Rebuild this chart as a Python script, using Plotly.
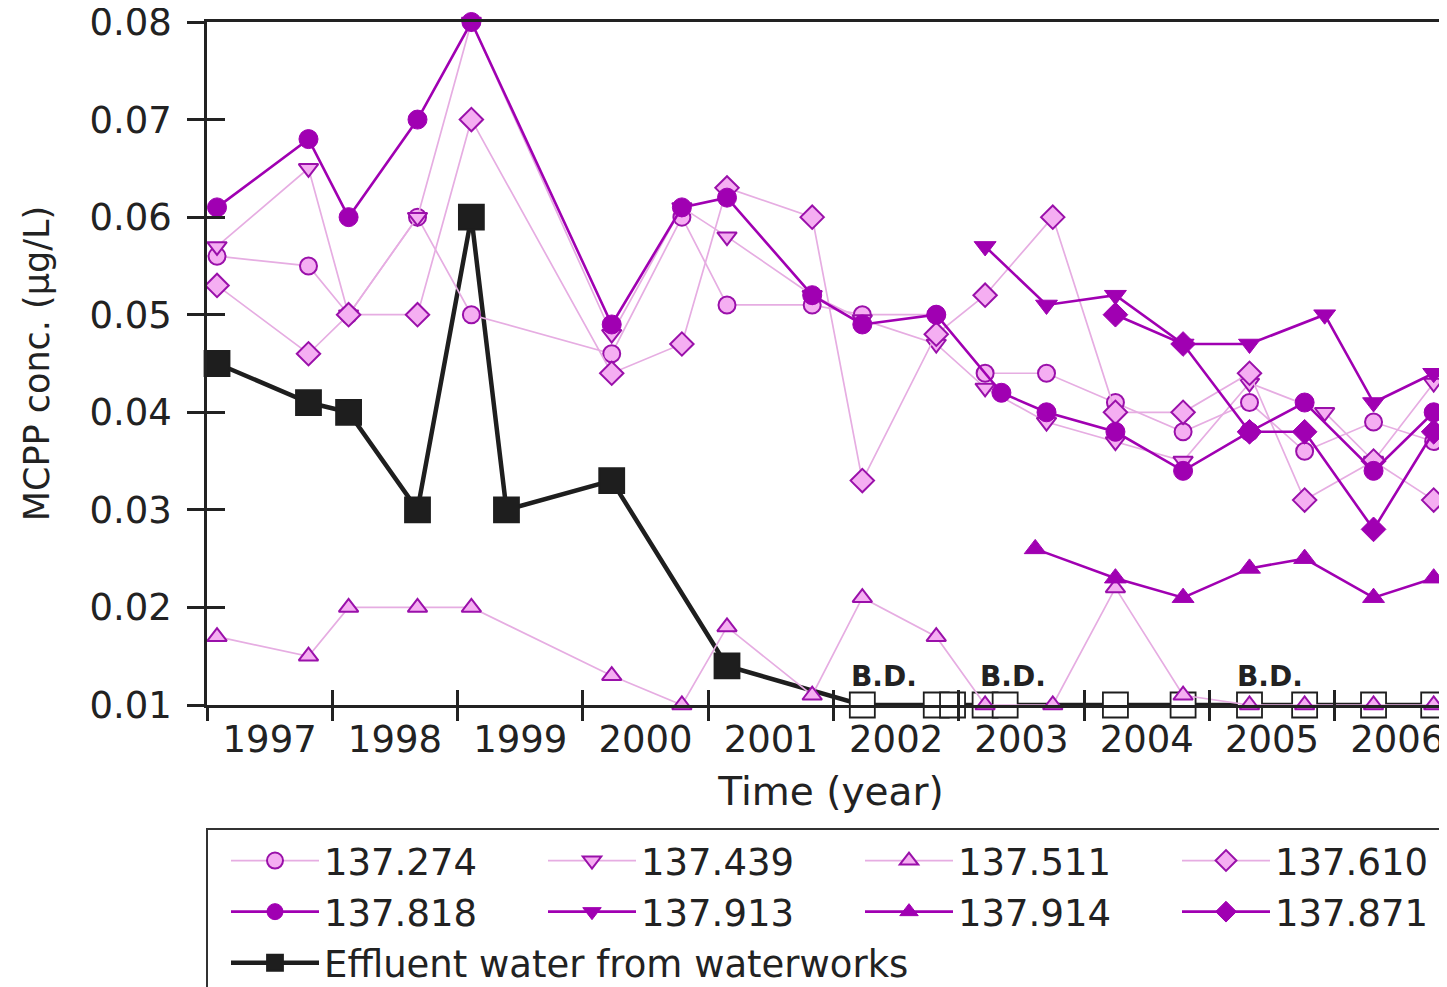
import plotly.graph_objects as go

# ---------------- data (fractional years, µg/L) ----------------
years = [1997, 1998, 1999, 2000, 2001, 2002, 2003, 2004, 2005, 2006]
year_labels = [str(y) for y in years]
y_ticks = [0.01, 0.02, 0.03, 0.04, 0.05, 0.06, 0.07, 0.08]
y_tick_labels = ["0.01", "0.02", "0.03", "0.04", "0.05", "0.06", "0.07", "0.08"]

x_274 = [1997.08, 1997.81, 1998.13, 1998.68, 1999.11, 2000.23, 2000.79, 2001.15, 2001.83, 2002.23,
         2002.82, 2003.21, 2003.70, 2004.25, 2004.79, 2005.32, 2005.76, 2006.31, 2006.79]
y_274 = [0.056, 0.055, 0.050, 0.060, 0.050, 0.046, 0.060, 0.051, 0.051, 0.050,
         0.050, 0.044, 0.044, 0.041, 0.038, 0.041, 0.036, 0.039, 0.037]

x_439 = [1997.08, 1997.81, 1998.13, 1998.68, 1999.11, 2000.23, 2000.79, 2001.15, 2001.83, 2002.23,
         2002.82, 2003.21, 2003.70, 2004.25, 2004.79, 2005.32, 2005.92, 2006.31, 2006.79]
y_439 = [0.057, 0.065, 0.050, 0.060, 0.080, 0.048, 0.061, 0.058, 0.052, 0.0495,
         0.047, 0.0425, 0.039, 0.037, 0.035, 0.043, 0.040, 0.035, 0.043]

x_511 = [1997.08, 1997.81, 1998.13, 1998.68, 1999.11, 2000.23, 2000.79, 2001.15, 2001.83, 2002.23,
         2002.82, 2003.21, 2003.75, 2004.25, 2004.79, 2005.32, 2005.76, 2006.31, 2006.79]
y_511 = [0.017, 0.015, 0.020, 0.020, 0.020, 0.013, 0.010, 0.018, 0.011, 0.021,
         0.017, 0.010, 0.010, 0.022, 0.011, 0.010, 0.010, 0.010, 0.010]

x_610 = [1997.08, 1997.81, 1998.13, 1998.68, 1999.11, 2000.23, 2000.79, 2001.15, 2001.83, 2002.23,
         2002.82, 2003.21, 2003.75, 2004.25, 2004.79, 2005.32, 2005.76, 2006.31, 2006.79]
y_610 = [0.053, 0.046, 0.050, 0.050, 0.070, 0.044, 0.047, 0.063, 0.060, 0.033,
         0.048, 0.052, 0.060, 0.040, 0.040, 0.044, 0.031, 0.035, 0.031]

x_818 = [1997.08, 1997.81, 1998.13, 1998.68, 1999.11, 2000.23, 2000.79, 2001.15, 2001.83, 2002.23,
         2002.82, 2003.34, 2003.70, 2004.25, 2004.79, 2005.32, 2005.76, 2006.31, 2006.79]
y_818 = [0.061, 0.068, 0.060, 0.070, 0.080, 0.049, 0.061, 0.062, 0.052, 0.049,
         0.050, 0.042, 0.040, 0.038, 0.034, 0.038, 0.041, 0.034, 0.040]

x_913 = [2003.21, 2003.70, 2004.25, 2004.79, 2005.32, 2005.92, 2006.31, 2006.79]
y_913 = [0.057, 0.051, 0.052, 0.047, 0.047, 0.050, 0.041, 0.044]

x_914 = [2003.61, 2004.25, 2004.79, 2005.32, 2005.76, 2006.31, 2006.79]
y_914 = [0.026, 0.023, 0.021, 0.024, 0.025, 0.021, 0.023]

x_871 = [2004.25, 2004.79, 2005.32, 2005.76, 2006.31, 2006.79]
y_871 = [0.050, 0.047, 0.038, 0.038, 0.028, 0.038]

x_eff = [1997.08, 1997.81, 1998.13, 1998.68, 1999.11, 1999.39, 2000.23, 2001.15, 2002.23, 2002.82,
         2002.95, 2003.21, 2003.37, 2004.25, 2004.79, 2005.32, 2005.76, 2006.31, 2006.79]
y_eff = [0.045, 0.041, 0.040, 0.030, 0.060, 0.030, 0.033, 0.014, 0.010, 0.010,
         0.010, 0.010, 0.010, 0.010, 0.010, 0.010, 0.010, 0.010, 0.010]
bd_eff = [False] * 8 + [True] * 11   # below detection -> open square

bd_label_x = [2002.40, 2003.43, 2005.48]
bd_label_y = [0.0129, 0.0129, 0.0129]

# ---------------- styles ----------------
LIGHT_LINE = "#e6ade2"
EDGE = "#9a10aa"
LIGHT_FILL = "#f5aef2"
DARK = "#a000b2"
FONT = "DejaVu Sans"
W, H = 1447, 987
ML, MT, MB = 199, 14, 290          # page body adds ~8px offset
PX_PER_YEAR = 125.3

fig = go.Figure()

# effluent first (drawn beneath), listed last in legend
fig.add_trace(go.Scatter(
    x=x_eff, y=y_eff, mode="lines+markers", name="Effluent water from waterworks",
    line=dict(color="#1e1e1e", width=4.5),
    marker=dict(symbol="square", size=25,
                color=["white" if b else "#1e1e1e" for b in bd_eff],
                line=dict(color="#1e1e1e", width=1.8)),
    legendrank=9, cliponaxis=False))

light = [("137.274", x_274, y_274, "circle"),
         ("137.439", x_439, y_439, "triangle-down"),
         ("137.511", x_511, y_511, "triangle-up"),
         ("137.610", x_610, y_610, "diamond")]
dark = [("137.818", x_818, y_818, "circle"),
        ("137.913", x_913, y_913, "triangle-down"),
        ("137.914", x_914, y_914, "triangle-up"),
        ("137.871", x_871, y_871, "diamond")]

rank = 1
for name, xs, ys, sym in light:
    fig.add_trace(go.Scatter(
        x=xs, y=ys, mode="lines+markers", name=name,
        line=dict(color=LIGHT_LINE, width=1.7),
        marker=dict(symbol=sym, size=17 if sym != "diamond" else 18, color=LIGHT_FILL,
                    line=dict(color=EDGE, width=2)),
        legendrank=rank, cliponaxis=False))
    rank += 1
for name, xs, ys, sym in dark:
    fig.add_trace(go.Scatter(
        x=xs, y=ys, mode="lines+markers", name=name,
        line=dict(color=DARK, width=2.6),
        marker=dict(symbol=sym, size=19, color=DARK, line=dict(color=DARK, width=1)),
        legendrank=rank, cliponaxis=False))
    rank += 1

# dummy trace to create the overlay axes (inner tick halves)
fig.add_trace(go.Scatter(x=[None], y=[None], xaxis="x2", yaxis="y2",
                         showlegend=False, hoverinfo="skip"))

for bx, by in zip(bd_label_x, bd_label_y):
    fig.add_annotation(x=bx, y=by, xref="x", yref="y", text="<b>B.D.</b>", showarrow=False,
                       font=dict(family=FONT, size=28, color="#222"), yanchor="middle")

xr = [1997, 1997 + (W - ML) / PX_PER_YEAR]
yr = [0.01, 0.08]
tick_color = "#222"
plot_h = H - MT - MB

fig.update_layout(
    width=W, height=H,
    margin=dict(l=ML, r=0, t=MT, b=MB, autoexpand=False),
    paper_bgcolor="white", plot_bgcolor="white",
    font=dict(family=FONT, color="#222"),
    xaxis=dict(range=xr, showgrid=False, zeroline=False, automargin=False,
               showline=True, linecolor=tick_color, linewidth=2.5, mirror=True,
               tickmode="array", tickvals=[y + 0.5 for y in years], ticktext=year_labels,
               ticks="", tickfont=dict(size=37, family=FONT, color="#222"),
               ticklabeloverflow="allow",
               minor=dict(tickmode="array", tickvals=years + [2007], ticks="outside",
                          ticklen=13, tickwidth=2.5, tickcolor=tick_color, showgrid=False),
               title=dict(text="Time (year)", font=dict(size=39, family=FONT, color="#222"),
                          standoff=18)),
    xaxis2=dict(range=xr, overlaying="x", anchor="y2", side="bottom", showgrid=False,
                zeroline=False, showline=False, tickmode="array", tickvals=years + [2007],
                ticks="inside", ticklen=15, tickwidth=2.5, tickcolor=tick_color,
                showticklabels=False, automargin=False),
    yaxis=dict(range=yr, showgrid=False, zeroline=False, automargin=False,
               showline=True, linecolor=tick_color, linewidth=2.5,
               tickmode="array", tickvals=y_ticks, ticktext=y_tick_labels,
               ticks="outside", ticklen=17, tickwidth=2.5, tickcolor=tick_color,
               tickfont=dict(size=37, family=FONT, color="#222"), ticklabelstandoff=8,
               ticklabeloverflow="allow",
               title=dict(text="MCPP conc. (μg/L)", font=dict(size=35, family=FONT, color="#222"),
                          standoff=30)),
    yaxis2=dict(range=yr, overlaying="y", anchor="x2", side="left", showgrid=False,
                zeroline=False, showline=False, tickmode="array", tickvals=y_ticks,
                ticks="inside", ticklen=18, tickwidth=2.5, tickcolor=tick_color,
                showticklabels=False, automargin=False),
    legend=dict(orientation="h", xref="paper", yref="paper",
                x=-0.0008, xanchor="left", y=-(828 - 705) / plot_h, yanchor="top",
                bgcolor="white", bordercolor="#333", borderwidth=2,
                font=dict(size=37, family=FONT, color="#222"),
                entrywidth=196, entrywidthmode="pixels", itemwidth=88,
                indentation=18, traceorder="normal"),
    showlegend=True,
)

fig.write_html("out.html")
